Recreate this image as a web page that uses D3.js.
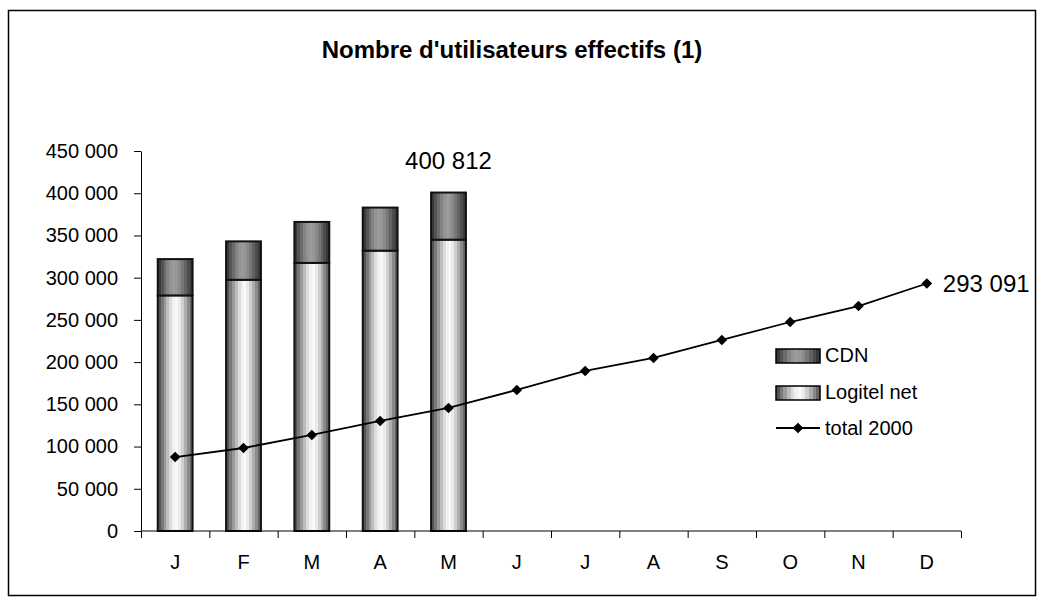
<!DOCTYPE html>
<html>
<head>
<meta charset="utf-8">
<script src="https://cdn.jsdelivr.net/npm/d3@7"></script>
<style>
  body { margin: 0; background: #fff; }
  svg text { font-family: Arial, "Liberation Sans", sans-serif; fill: #000; }
</style>
</head>
<body>
<div id="chart"></div>
<script>
// months of year 2000 (labels), first letters only as in the original
var months = ["J", "F", "M", "A", "M", "J", "J", "A", "S", "O", "N", "D"];

// stacked bars, Jan..May
var logitelNet = [279000, 297500, 317500, 332000, 345000];
var cdn = [43000, 45500, 48500, 51000, 55812];

// line "total 2000"
var total2000 = [87600, 98300, 113700, 130300, 145700, 167000, 189500, 204900, 226200, 247500, 266400, 293091];

var yTicks = [0, 50000, 100000, 150000, 200000, 250000, 300000, 350000, 400000, 450000];
var seriesNames = ["CDN", "Logitel net", "total 2000"];

// stripe shades for the "cylinder" bar look
var logitelStripes = ["#555555", "#787878", "#9a9a9a", "#bcbcbc", "#dcdcdc", "#f0f0f0", "#f8f8f8", "#eaeaea", "#cfcfcf", "#adadad", "#8a8a8a", "#666666"];
var cdnStripes = ["#3a3a3a", "#545454", "#6c6c6c", "#838383", "#939393", "#9b9b9b", "#979797", "#8a8a8a", "#777777", "#626262", "#4c4c4c", "#383838"];


var width = 1045,
    height = 607;
var margin = {left: 141, right: 84, top: 151, bottom: 76};

var fmt = d3.formatLocale({decimal: ",", thousands: " ", grouping: [3], currency: ["", ""]}).format(",d");

var svg = d3.select("#chart")
    .append("svg")
    .attr("width", width)
    .attr("height", height);

// stepped gradients
var defs = svg.append("defs");
function stripes(id, cols) {
    var g = defs.append("linearGradient")
        .attr("id", id)
        .attr("x1", 0).attr("x2", 1).attr("y1", 0).attr("y2", 0);
    cols.forEach(function(c, i) {
        g.append("stop").attr("offset", i / cols.length).attr("stop-color", c);
        g.append("stop").attr("offset", (i + 1) / cols.length).attr("stop-color", c);
    });
}
stripes("gLogitel", logitelStripes);
stripes("gCdn", cdnStripes);

// outer frame
svg.append("rect")
    .attr("x", 8.5).attr("y", 10.5)
    .attr("width", 1027).attr("height", 585)
    .attr("fill", "none")
    .attr("stroke", "#000")
    .attr("stroke-width", 1.5);

svg.append("text")
    .attr("x", 512)
    .attr("y", 58)
    .attr("text-anchor", "middle")
    .style("font-size", "24px")
    .style("font-weight", "bold")
    .text("Nombre d'utilisateurs effectifs (1)");

var x = d3.scaleBand()
    .domain(d3.range(months.length))
    .range([margin.left, width - margin.right])
    .paddingInner(0.49)
    .paddingOuter(0.245);

var xBand = d3.scaleLinear()
    .domain([0, months.length])
    .range([margin.left, width - margin.right]);

var y = d3.scaleLinear()
    .domain([0, 450000])
    .range([height - margin.bottom, margin.top]);

// bars
var stack = logitelNet.map(function(v, i) { return {i: i, low: v, top: v + cdn[i]}; });

var bars = svg.append("g").selectAll("g")
    .data(stack)
    .enter()
    .append("g");
bars.append("rect")
    .attr("x", function(d) { return x(d.i); })
    .attr("y", function(d) { return y(d.low); })
    .attr("width", x.bandwidth())
    .attr("height", function(d) { return y(0) - y(d.low); })
    .attr("fill", "url(#gLogitel)")
    .attr("stroke", "#111")
    .attr("stroke-width", 2);
bars.append("rect")
    .attr("x", function(d) { return x(d.i); })
    .attr("y", function(d) { return y(d.top); })
    .attr("width", x.bandwidth())
    .attr("height", function(d) { return y(d.low) - y(d.top); })
    .attr("fill", "url(#gCdn)")
    .attr("stroke", "#111")
    .attr("stroke-width", 2);

// y axis
var yAxis = d3.axisLeft(y)
    .tickValues(yTicks)
    .tickFormat(fmt)
    .tickSize(7)
    .tickSizeOuter(0)
    .tickPadding(16);
var gy = svg.append("g")
    .attr("transform", "translate(" + margin.left + ",0)")
    .call(yAxis);
gy.selectAll("text").style("font-size", "20px").attr("fill", "#000");
gy.selectAll("line, path").attr("stroke", "#000");

// x axis: labels in the middle, ticks between categories
var xAxis = d3.axisBottom(x)
    .tickFormat(function(i) { return months[i]; })
    .tickSize(0)
    .tickPadding(24);
var gx = svg.append("g")
    .attr("transform", "translate(0," + y(0) + ")")
    .call(xAxis);
gx.select(".domain").remove();
gx.selectAll("text").style("font-size", "20px").attr("fill", "#000");

svg.append("line")
    .attr("x1", xBand(0)).attr("x2", xBand(months.length))
    .attr("y1", y(0)).attr("y2", y(0))
    .attr("stroke", "#000");
svg.append("g").selectAll("line")
    .data(d3.range(months.length + 1))
    .enter()
    .append("line")
    .attr("x1", function(d) { return xBand(d) + 0.5; })
    .attr("x2", function(d) { return xBand(d) + 0.5; })
    .attr("y1", y(0))
    .attr("y2", y(0) + 7)
    .attr("stroke", "#000");

// total 2000 line
var cx = function(d, i) { return x(i) + x.bandwidth() / 2; };
var line = d3.line()
    .x(cx)
    .y(function(d) { return y(d); });
svg.append("path")
    .datum(total2000)
    .attr("d", line)
    .attr("fill", "none")
    .attr("stroke", "#000")
    .attr("stroke-width", 1.8);

var diamond = d3.symbol().type(d3.symbolDiamond2).size(72);
svg.append("g").selectAll("path")
    .data(total2000)
    .enter()
    .append("path")
    .attr("d", diamond)
    .attr("transform", function(d, i) { return "translate(" + cx(d, i) + "," + y(d) + ")"; })
    .attr("fill", "#000");

// value labels
var last5 = stack[stack.length - 1];
svg.append("text")
    .attr("x", x(last5.i) + x.bandwidth() / 2)
    .attr("y", y(last5.top) - 24)
    .attr("text-anchor", "middle")
    .style("font-size", "24px")
    .text(fmt(last5.top));

var li = total2000.length - 1;
svg.append("text")
    .attr("x", cx(total2000[li], li) + 16)
    .attr("y", y(total2000[li]) + 8)
    .style("font-size", "24px")
    .text(fmt(total2000[li]));

// legend
var legend = svg.append("g")
    .attr("transform", "translate(776,349)");
var items = legend.selectAll("g")
    .data(seriesNames)
    .enter()
    .append("g")
    .attr("transform", function(d, i) { return "translate(0," + i * 37 + ")"; });
items.filter(function(d, i) { return i < 2; })
    .append("rect")
    .attr("width", 44)
    .attr("height", 14)
    .attr("fill", function(d, i) { return i === 0 ? "url(#gCdn)" : "url(#gLogitel)"; })
    .attr("stroke", "#000")
    .attr("stroke-width", 1.5);
var lineItem = items.filter(function(d, i) { return i === 2; });
lineItem.append("line")
    .attr("x1", 0).attr("x2", 44)
    .attr("y1", 5).attr("y2", 5)
    .attr("stroke", "#000")
    .attr("stroke-width", 1.8);
lineItem.append("path")
    .attr("d", diamond)
    .attr("transform", "translate(22,5)")
    .attr("fill", "#000");
items.append("text")
    .attr("x", 49)
    .attr("y", function(d, i) { return i === 2 ? 12 : 13; })
    .style("font-size", "20px")
    .text(function(d) { return d; });
</script>
</body>
</html>
